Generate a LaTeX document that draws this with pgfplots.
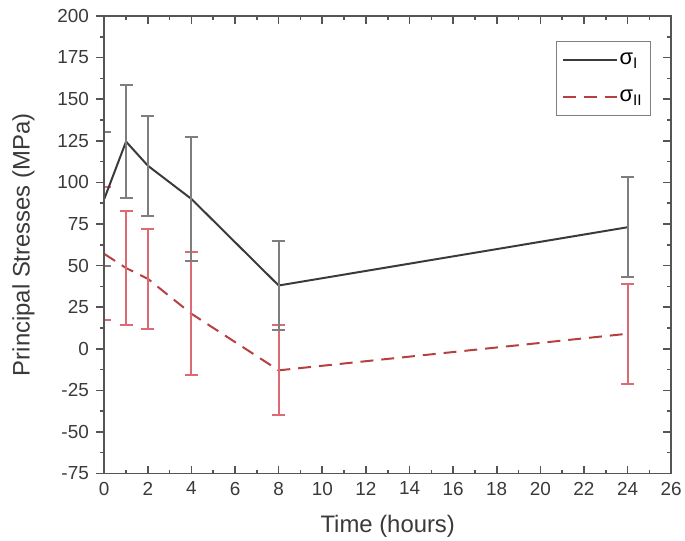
\documentclass[border=0pt]{standalone}
\usepackage{pgfplots}
\pgfplotsset{compat=1.18}
\usepackage{fontspec}
\setmainfont{Liberation Sans}
\definecolor{lineI}{HTML}{3A3A3A}
\definecolor{barI}{HTML}{7E7E7E}
\definecolor{lineII}{HTML}{B5403F}
\definecolor{barII}{HTML}{DC6A74}
\definecolor{axisgray}{HTML}{555555}
\definecolor{textgray}{HTML}{3A3A3A}
\begin{document}
\begin{tikzpicture}
\pgfplotsset{
  common/.style={
    scale only axis, width=570pt, height=460pt,
    xmin=0, xmax=26, ymin=-75, ymax=200,
    xtick={0,2,...,26}, ytick={-75,-50,...,200},
    minor x tick num=1, minor y tick num=1,
    axis line style={axisgray, line width=1.6pt},
    major tick length=8pt, minor tick length=4pt,
    every tick/.style={axisgray, line width=1.6pt},
    tick label style={font=\fontsize{19}{21}\selectfont, text=textgray},
    label style={font=\fontsize{24}{27}\selectfont, text=textgray},
    /pgf/number format/assume math mode=true,
  }
}
\begin{axis}[common,
  tick align=inside,
  xtick pos=both, ytick pos=right, yticklabels={},
  xticklabel pos=bottom,
  xticklabel style={yshift=-5pt},
  xlabel={Time (hours)},
  xlabel style={yshift=-13pt},
  legend style={at={(0.796,0.946)}, anchor=north west, draw=gray, line width=1pt,
    font=\fontsize{22}{25}\selectfont, inner xsep=6pt, inner ysep=10pt, row sep=20pt},
  legend cell align=left,
  legend image code/.code={\draw[#1] (0pt,0pt) -- (54pt,0pt);},
]
\addplot[lineII, line width=2pt, dash pattern=on 13pt off 8pt, forget plot,
  error bars/.cd, y dir=both, y explicit,
  error bar style={barII, line width=2pt, solid},
  error mark options={rotate=90, mark size=6.5pt, barII, line width=2pt, solid}]
  coordinates {
  (0,57) +- (0,40)
  (1,48.5) +- (0,34)
  (2,42) +- (0,30)
  (4,21) +- (0,37)
  (8,-13) +- (0,27)
  (24,9) +- (0,30)
};
\addplot[lineI, line width=2pt, forget plot,
  error bars/.cd, y dir=both, y explicit,
  error bar style={barI, line width=2pt},
  error mark options={rotate=90, mark size=6.5pt, barI, line width=2pt}]
  coordinates {
  (0,90) +- (0,40)
  (1,124.5) +- (0,34)
  (2,110) +- (0,30)
  (4,90) +- (0,37)
  (8,38) +- (0,27)
  (24,73) +- (0,30)
};
\addlegendimage{lineI, line width=2pt}
\addlegendentry{σ\textsubscript{I}}
\addlegendimage{lineII, line width=2pt, dash pattern=on 13pt off 8pt}
\addlegendentry{σ\textsubscript{II}}
\end{axis}
\begin{axis}[common,
  tick align=outside,
  hide x axis,
  axis y line*=left,
  yticklabel style={xshift=-4pt},
  ylabel={Principal Stresses (MPa)},
  ylabel style={yshift=16pt},
]
\end{axis}
\path (current bounding box.north) ++(0,6pt);
\path (current bounding box.west) ++(-9pt,0);
\end{tikzpicture}
\end{document}
